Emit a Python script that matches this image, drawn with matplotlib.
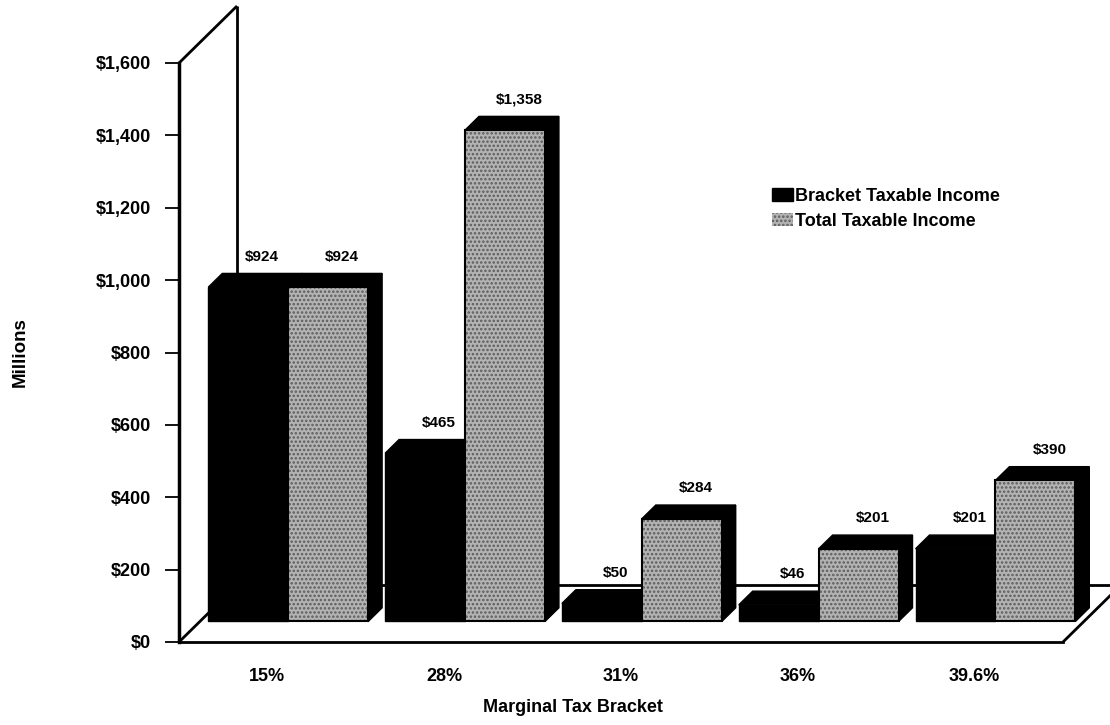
import matplotlib.pyplot as plt
from matplotlib.patches import Polygon, Patch

# Taxable income by marginal bracket, $ millions
brackets = ["15%", "28%", "31%", "36%", "39.6%"]
bracket_income = [924, 465, 50, 46, 201]
total_income = [924, 1358, 284, 201, 390]
series_names = ["Bracket Taxable Income", "Total Taxable Income"]
y_ticks = [0, 200, 400, 600, 800, 1000, 1200, 1400, 1600]
y_tick_labels = ["$0", "$200", "$400", "$600", "$800", "$1,000", "$1,200", "$1,400", "$1,600"]

plt.rcParams["font.family"] = ["Liberation Sans", "DejaVu Sans"]
plt.rcParams["font.weight"] = "bold"
plt.rcParams["axes.labelweight"] = "bold"
plt.rcParams["hatch.linewidth"] = 1.2

W, H = 1110, 725
fig = plt.figure(figsize=(W / 100, H / 100), dpi=100)
fig.patch.set_facecolor("white")

# front plane of the box, in pixels
left, right, bottom, top = 179, 1063, 642, 63
ax = fig.add_axes([left / W, 1 - bottom / H, (right - left) / W, (bottom - top) / H])
ax.set_xlim(-0.5, len(brackets) - 0.5)
ax.set_ylim(0, 1600)

# depth of the box in data units (58 px right, 57 px up)
DX = 58 / ((right - left) / len(brackets))
DY = 57 / ((bottom - top) / 1600)
Z0, Z1 = 0.36, 0.60       # bars sit between these depth fractions
BAR_W = 0.452


def P(x, y, z):
    return (x + z * DX, y + z * DY)


line_kw = dict(color="black", lw=2, clip_on=False, zorder=0.5, solid_capstyle="butt")
x_min, x_max = -0.5, len(brackets) - 0.5
# wall and floor outline
ax.plot(*zip(P(x_min, 1600, 0), P(x_min, 1600, 1)), **line_kw)
ax.plot(*zip(P(x_min, 0, 1), P(x_min, 1600, 1)), **line_kw)
ax.plot(*zip(P(x_min, 0, 0), P(x_min, 0, 1)), **line_kw)
ax.plot(*zip(P(x_min, 0, 1), P(x_max, 0, 1)), **line_kw)
ax.plot(*zip(P(x_max, 0, 0), P(x_max, 0, 1)), **line_kw)

LIGHT = "#b3b3b3"
STIPPLE = "#5c5c5c"


def draw_bar(x0, x1, h, light):
    front = [P(x0, 0, Z0), P(x1, 0, Z0), P(x1, h, Z0), P(x0, h, Z0)]
    top_face = [P(x0, h, Z0), P(x0, h, Z1), P(x1, h, Z1), P(x1, h, Z0)]
    side = [P(x1, 0, Z0), P(x1, 0, Z1), P(x1, h, Z1), P(x1, h, Z0)]
    for poly in (top_face, side):
        ax.add_patch(Polygon(poly, closed=True, facecolor="black", edgecolor="black",
                             lw=1, clip_on=False, zorder=1))
    if light:
        ax.add_patch(Polygon(front, closed=True, facecolor=LIGHT, edgecolor=STIPPLE,
                             hatch="....", lw=0, clip_on=False, zorder=1))
        ax.add_patch(Polygon(front, closed=True, fill=False, edgecolor="black",
                             lw=1.5, clip_on=False, zorder=1))
    else:
        ax.add_patch(Polygon(front, closed=True, facecolor="black", edgecolor="black",
                             lw=1, clip_on=False, zorder=1))


def label_bar(xc, h):
    ax.annotate(f"${h:,}", xy=P(xc, h, Z1), xytext=(0, 7), textcoords="offset points",
                ha="center", va="bottom", fontsize=11, annotation_clip=False)


for i in range(len(brackets)):
    draw_bar(i - BAR_W, i, bracket_income[i], light=False)
    draw_bar(i, i + BAR_W, total_income[i], light=True)
    label_bar(i - BAR_W / 2, bracket_income[i])
    label_bar(i + BAR_W / 2, total_income[i])

# axes
for s in ("top", "right"):
    ax.spines[s].set_visible(False)
ax.spines["left"].set_linewidth(2.5)
ax.spines["bottom"].set_linewidth(2)
ax.set_facecolor("none")

ax.set_yticks(y_ticks, y_tick_labels, fontsize=13)
ax.tick_params(axis="y", length=10, width=1.3, pad=10)
ax.set_xticks(range(len(brackets)), brackets, fontsize=13)
ax.tick_params(axis="x", length=0, pad=19)

ax.set_xlabel("Marginal Tax Bracket", fontsize=13)
ax.xaxis.set_label_coords((573 - left) / (right - left), (bottom - 699) / (bottom - top))
ax.set_ylabel("Millions", fontsize=13.5)
ax.yaxis.set_label_coords((29 - left) / (right - left), 0.5)

handles = [Patch(facecolor="black", edgecolor="black"),
           Patch(facecolor=LIGHT, edgecolor=STIPPLE, hatch="....", lw=0)]
fig.legend(handles, series_names, loc="center left", frameon=False,
           bbox_to_anchor=(772 / W, 1 - 209 / H), fontsize=13,
           handlelength=1.15, handleheight=0.7, handletextpad=0.15,
           labelspacing=0.45, borderpad=0, borderaxespad=0)

fig.savefig("out.png", dpi=100, facecolor="white")
